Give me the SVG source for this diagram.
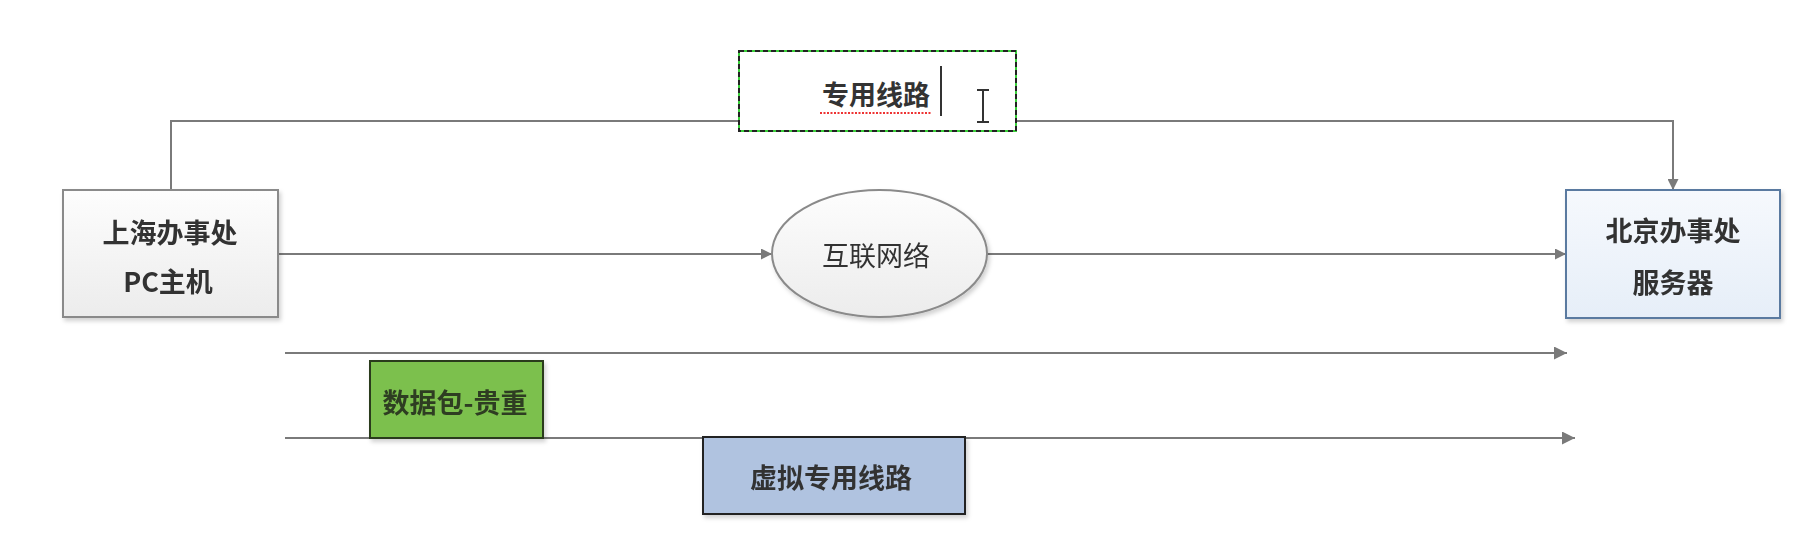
<svg xmlns="http://www.w3.org/2000/svg" width="1808" height="546" viewBox="0 0 1808 546">
<style>
  .t { font-family: "Microsoft YaHei", "Noto Sans CJK SC", sans-serif; fill: #333; text-anchor: middle; dominant-baseline: central; }
  .b { font-weight: bold; font-size: 27px; }
  .n { font-size: 27px; }
  .ln { stroke: #7a7a7a; stroke-width: 2; fill: none; }
</style>
<defs>
  <marker id="ah" viewBox="0 0 10 10" refX="10" refY="5" markerWidth="11" markerHeight="11" orient="auto" markerUnits="userSpaceOnUse">
    <path d="M0,0 L10,5 L0,10 Z" fill="#7a7a7a"/>
  </marker>
  <marker id="ahl" viewBox="0 0 10 10" refX="10" refY="5" markerWidth="13" markerHeight="13" orient="auto" markerUnits="userSpaceOnUse">
    <path d="M0,0 L10,5 L0,10 Z" fill="#7a7a7a"/>
  </marker>
  <linearGradient id="gGray" x1="0" y1="0" x2="0" y2="1">
    <stop offset="0" stop-color="#fdfdfd"/>
    <stop offset="1" stop-color="#ececec"/>
  </linearGradient>
  <linearGradient id="gBlue" x1="0" y1="0" x2="0" y2="1">
    <stop offset="0" stop-color="#f6f9fd"/>
    <stop offset="1" stop-color="#e6eef8"/>
  </linearGradient>
  <filter id="sh" x="-10%" y="-10%" width="130%" height="130%">
    <feDropShadow dx="2" dy="3" stdDeviation="2" flood-color="#000" flood-opacity="0.18"/>
  </filter>
</defs>

<g id="connectors">
  <path class="ln" d="M171,190 V121 H1673 V190" marker-end="url(#ah)"/>
  <path class="ln" d="M278,254 H772" marker-end="url(#ah)"/>
  <path class="ln" d="M987,254 H1566" marker-end="url(#ah)"/>
  <path class="ln" d="M285,353 H1567" marker-end="url(#ahl)"/>
  <path class="ln" d="M285,438 H1575" marker-end="url(#ahl)"/>
</g>

<g id="label-dedicated">
  <rect x="739" y="51" width="277" height="80" fill="#fff" stroke="#3ad13a" stroke-width="2"/>
  <rect x="739" y="51" width="277" height="80" fill="none" stroke="#222" stroke-width="2" stroke-dasharray="5,3"/>
  <text class="t b" x="876" y="93">专用线路</text>
  <path d="M820,113 H932" stroke="#e33" stroke-width="2" stroke-dasharray="2,1.5"/>
  <line x1="941" y1="66" x2="941" y2="116" stroke="#333" stroke-width="2"/>
  <path d="M977,90 H989 M983,90 V122 M977,122 H989" stroke="#333" stroke-width="2" fill="none"/>
</g>

<g id="node-shanghai" filter="url(#sh)">
  <rect x="63" y="190" width="215" height="127" fill="url(#gGray)" stroke="#8a8a8a" stroke-width="2"/>
  <text class="t b" x="170" y="231">上海办事处</text>
  <text class="t b" x="168" y="280">PC主机</text>
</g>

<g id="node-internet" filter="url(#sh)">
  <ellipse cx="879.5" cy="253.5" rx="107.5" ry="63.5" fill="url(#gGray)" stroke="#8a8a8a" stroke-width="2"/>
  <text class="t n" x="876" y="254">互联网络</text>
</g>

<g id="node-beijing" filter="url(#sh)">
  <rect x="1566" y="190" width="214" height="128" fill="url(#gBlue)" stroke="#5a7aa0" stroke-width="2"/>
  <text class="t b" x="1673" y="229">北京办事处</text>
  <text class="t b" x="1673" y="281">服务器</text>
</g>

<g id="node-packet" filter="url(#sh)">
  <rect x="370" y="361" width="173" height="77" fill="#7cc04e" stroke="#2a3a1a" stroke-width="2"/>
  <text class="t b" x="455" y="401" style="fill:#2e3d22">数据包-贵重</text>
</g>

<g id="node-vpn" filter="url(#sh)">
  <rect x="703" y="437" width="262" height="77" fill="#b0c3e0" stroke="#222" stroke-width="2"/>
  <text class="t b" x="831" y="476">虚拟专用线路</text>
</g>
</svg>
